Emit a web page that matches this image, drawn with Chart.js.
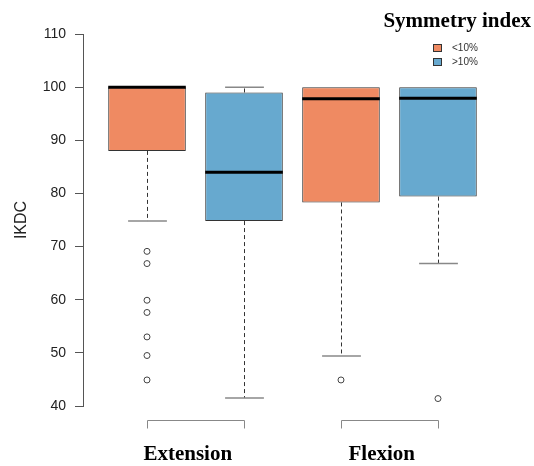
<!DOCTYPE html>
<html>
<head>
<meta charset="utf-8">
<script src="https://cdn.jsdelivr.net/npm/chart.js@4/dist/chart.umd.min.js"></script>
<style>
  html, body { margin: 0; padding: 0; background: #fff; }
  #wrap { width: 534px; height: 466px; position: relative; }
</style>
</head>
<body>
<div id="wrap"><canvas id="chart"></canvas></div>
<script>
// groups on the x axis, two boxes each
const groups = ['Extension', 'Flexion'];
const seriesNames = ['<10%', '>10%'];
const seriesColors = ['#EF8A62', '#67A9CF'];

// box order: Extension <10%, Extension >10%, Flexion <10%, Flexion >10%
const boxPositions = [1, 2, 3, 4];
const boxSeries = [0, 1, 0, 1];
const lowerWhisker = [74.8, 41.5, 49.4, 66.8];
const q1 = [88.0, 74.8, 78.3, 79.4];
const median = [100, 84.0, 97.8, 97.9];
const q3 = [100, 99.0, 100, 100];
const upperWhisker = [100, 100, 100, 100];
const outliers = [
  [69.1, 66.8, 59.9, 57.6, 53.0, 49.5, 44.9],
  [],
  [44.9],
  [41.4]
];

const yMin = 40;
const yMax = 110;
const yStep = 10;

const outlierPoints = [];
outliers.forEach((list, i) => {
  list.forEach(v => outlierPoints.push({ x: boxPositions[i], y: v }));
});

const serifBold = 'bold 21px "Liberation Serif", "Times New Roman", serif';
const sans = '"Liberation Sans", Arial, Helvetica, sans-serif';

const boxExtras = {
  id: 'boxExtras',
  afterDatasetsDraw(chart) {
    const { ctx, scales: { x, y } } = chart;
    const bars = chart.getDatasetMeta(0).data;
    ctx.save();
    boxPositions.forEach((p, i) => {
      const cx = Math.round(x.getPixelForValue(p)) + 0.5;
      const capHalf = (x.getPixelForValue(p + 0.2) - x.getPixelForValue(p));

      // whiskers
      ctx.strokeStyle = '#333';
      ctx.lineWidth = 1;
      ctx.setLineDash([4, 3]);
      if (lowerWhisker[i] < q1[i]) {
        ctx.beginPath();
        ctx.moveTo(cx, y.getPixelForValue(q1[i]));
        ctx.lineTo(cx, y.getPixelForValue(lowerWhisker[i]));
        ctx.stroke();
      }
      if (upperWhisker[i] > q3[i]) {
        ctx.beginPath();
        ctx.moveTo(cx, y.getPixelForValue(q3[i]));
        ctx.lineTo(cx, y.getPixelForValue(upperWhisker[i]));
        ctx.stroke();
      }
      ctx.setLineDash([]);

      // caps
      ctx.strokeStyle = '#888';
      ctx.lineWidth = 1.5;
      const caps = [lowerWhisker[i]];
      if (upperWhisker[i] > q3[i]) caps.push(upperWhisker[i]);
      caps.forEach(v => {
        const py = y.getPixelForValue(v);
        ctx.beginPath();
        ctx.moveTo(cx - capHalf, py);
        ctx.lineTo(cx + capHalf, py);
        ctx.stroke();
      });

      // median
      const bar = bars[i];
      const my = y.getPixelForValue(median[i]);
      ctx.strokeStyle = '#000';
      ctx.lineWidth = 3;
      ctx.beginPath();
      ctx.moveTo(bar.x - bar.width / 2, my);
      ctx.lineTo(bar.x + bar.width / 2, my);
      ctx.stroke();
    });
    ctx.restore();
  },
  afterDraw(chart) {
    const { ctx, scales: { x, y } } = chart;
    ctx.save();

    // group brackets along the bottom
    const lineY = Math.round(y.getPixelForValue(yMin)) + 14.5;
    ctx.strokeStyle = '#888';
    ctx.lineWidth = 1;
    groups.forEach((g, gi) => {
      const a = Math.round(x.getPixelForValue(boxPositions[gi * 2])) + 0.5;
      const b = Math.round(x.getPixelForValue(boxPositions[gi * 2 + 1])) + 0.5;
      ctx.beginPath();
      ctx.moveTo(a, lineY + 8);
      ctx.lineTo(a, lineY);
      ctx.lineTo(b, lineY);
      ctx.lineTo(b, lineY + 8);
      ctx.stroke();

      const mid = (boxPositions[gi * 2] + boxPositions[gi * 2 + 1]) / 2 - 0.08;
      ctx.fillStyle = '#000';
      ctx.font = serifBold;
      ctx.textAlign = 'center';
      ctx.textBaseline = 'alphabetic';
      ctx.fillText(g, x.getPixelForValue(mid), 460);
    });

    // legend title
    ctx.font = serifBold;
    ctx.textAlign = 'right';
    ctx.fillStyle = '#000';
    ctx.fillText('Symmetry index', 531, 27);

    // legend entries
    ctx.font = '10px ' + sans;
    ctx.textAlign = 'left';
    ctx.textBaseline = 'middle';
    seriesNames.forEach((name, i) => {
      const cy = 48 + i * 14;
      ctx.fillStyle = seriesColors[i];
      ctx.fillRect(433.5, cy - 3.5, 8, 7);
      ctx.strokeStyle = '#333';
      ctx.lineWidth = 1;
      ctx.strokeRect(433.5, cy - 3.5, 8, 7);
      ctx.fillStyle = '#333';
      ctx.fillText(name, 452, cy);
    });
    ctx.restore();
  }
};

new Chart(document.getElementById('chart'), {
  type: 'bar',
  data: {
    datasets: [
      {
        type: 'bar',
        data: boxPositions.map((p, i) => ({ x: p, y: [q1[i], q3[i]] })),
        backgroundColor: boxSeries.map(s => seriesColors[s]),
        borderColor: '#333',
        borderWidth: 1,
        borderSkipped: false,
        categoryPercentage: 1,
        barPercentage: 0.8
      },
      {
        type: 'scatter',
        data: outlierPoints,
        pointStyle: 'circle',
        pointRadius: 3,
        pointBackgroundColor: '#fff',
        pointBorderColor: '#444',
        pointBorderWidth: 1
      }
    ]
  },
  options: {
    responsive: true,
    maintainAspectRatio: false,
    animation: false,
    layout: { padding: { top: 34, bottom: 60, right: 32, left: 0 } },
    scales: {
      x: {
        type: 'linear',
        display: false,
        offset: false,
        grid: { offset: false },
        min: 0.34,
        max: 4.66,
        afterBuildTicks: (scale) => {
          scale.ticks = boxPositions.map(v => ({ value: v }));
        }
      },
      y: {
        min: yMin,
        max: yMax,
        afterFit: (scale) => { scale.width = 83; },
        ticks: {
          stepSize: yStep,
          padding: 9,
          color: '#222',
          font: { family: sans, size: 14 }
        },
        grid: {
          drawOnChartArea: false,
          drawTicks: true,
          tickLength: 8,
          tickColor: '#555'
        },
        border: { display: true, color: '#555' },
        title: {
          display: true,
          text: 'IKDC',
          color: '#222',
          font: { family: sans, size: 16 },
          padding: { top: 12, bottom: 0 }
        }
      }
    },
    plugins: {
      legend: { display: false },
      tooltip: { enabled: false }
    }
  },
  plugins: [boxExtras]
});
</script>
</body>
</html>
